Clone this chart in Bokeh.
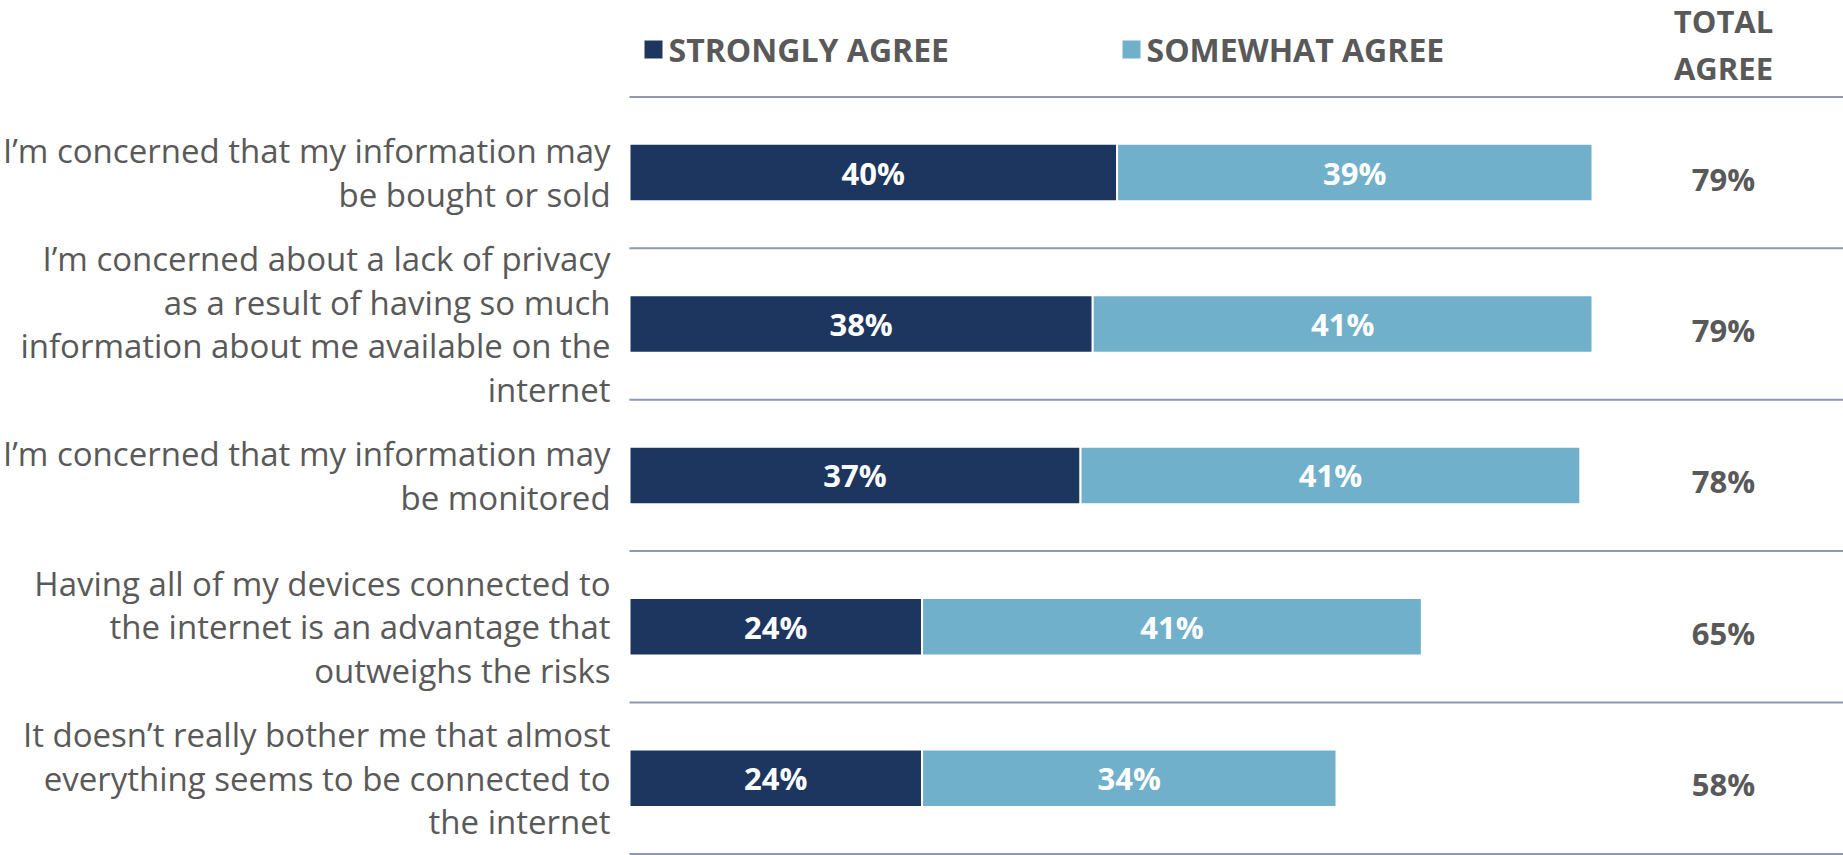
from bokeh.plotting import figure
from bokeh.models import Range1d, ColumnDataSource
from bokeh.core.properties import value
from bokeh.embed import file_html
from bokeh.resources import INLINE

categories = [
    "I\u2019m concerned that my information may\nbe bought or sold",
    "I\u2019m concerned about a lack of privacy\nas a result of having so much\ninformation about me available on the\ninternet",
    "I\u2019m concerned that my information may\nbe monitored",
    "Having all of my devices connected to\nthe internet is an advantage that\noutweighs the risks",
    "It doesn\u2019t really bother me that almost\neverything seems to be connected to\nthe internet",
]
strongly_agree = [40, 38, 37, 24, 24]
somewhat_agree = [39, 41, 41, 41, 34]
total_agree = [79, 79, 78, 65, 58]
series_names = ["STRONGLY AGREE", "SOMEWHAT AGREE"]
total_header = "TOTAL\nAGREE"

DARK = "#1d3660"
LIGHT = "#71b0ca"
GRAY = "#595959"
RULE = "#8c99b0"
FONT = "Open Sans"

W, H = 1843, 855
px_per_unit = 12.19
x0_px = 629
band_px = 151.4
c0_px = 172.1

xs = -x0_px / px_per_unit
xe = (W - x0_px) / px_per_unit
yt = -c0_px / band_px
yb = (H - c0_px) / band_px

p = figure(width=W, height=H, output_backend="svg", toolbar_location=None,
           x_range=Range1d(xs, xe), y_range=Range1d(yb, yt),
           min_border=0, min_border_left=0, min_border_right=0,
           min_border_top=0, min_border_bottom=0)
p.axis.visible = False
p.grid.visible = False
p.outline_line_color = None
p.background_fill_color = "white"
p.border_fill_color = "white"

n = len(categories)
ys = list(range(n))
right2 = [a + b for a, b in zip(strongly_agree, somewhat_agree)]

src = ColumnDataSource(dict(
    y=ys, sa=strongly_agree, sw=somewhat_agree, tot=right2,
    zero=[0] * n,
    mid1=[a / 2 for a in strongly_agree],
    mid2=[a + b / 2 for a, b in zip(strongly_agree, somewhat_agree)],
    lab1=[f"{v}%" for v in strongly_agree],
    lab2=[f"{v}%" for v in somewhat_agree],
    totlab=[f"{v}%" for v in total_agree],
    cat=categories,
    ty=[y + 0.04 for y in ys],
))

bar_h = 0.38
p.hbar(y="y", left="zero", right="sa", height=bar_h, source=src,
       fill_color=DARK, line_color="white", line_width=2)
p.hbar(y="y", left="sa", right="tot", height=bar_h, source=src,
       fill_color=LIGHT, line_color="white", line_width=2)

p.text(x="mid1", y="y", text="lab1", source=src, text_color="white",
       text_font=value(FONT), text_font_style="bold", text_font_size="31px",
       text_align="center", text_baseline="middle")
p.text(x="mid2", y="y", text="lab2", source=src, text_color="white",
       text_font=value(FONT), text_font_style="bold", text_font_size="31px",
       text_align="center", text_baseline="middle")

# category labels
p.text(x=-1.55, y="y", text="cat", source=src, text_color=GRAY,
       text_font=value(FONT), text_font_size="33px",
       text_align="right", text_baseline="middle", text_line_height=0.97)

# totals
tot_x = (1723 - x0_px) / px_per_unit
p.text(x=tot_x, y="ty", text="totlab", source=src, text_color=GRAY,
       text_font=value(FONT), text_font_style="bold", text_font_size="31px",
       text_align="center", text_baseline="middle")

# separator rules
rule_y = [i - 0.5 for i in range(n + 1)]
p.segment(x0=[0] * len(rule_y), x1=[xe + 5] * len(rule_y), y0=rule_y, y1=rule_y,
          line_color=RULE, line_width=2)

# legend
leg_y = (49 - c0_px) / band_px
sq = 18 / px_per_unit
p.rect(x=[(653 - x0_px) / px_per_unit, (1131 - x0_px) / px_per_unit], y=[leg_y, leg_y],
       width=sq, height=18 / band_px, fill_color=[DARK, LIGHT], line_color=None)
p.text(x=[(668 - x0_px) / px_per_unit, (1146 - x0_px) / px_per_unit], y=[leg_y, leg_y],
       text=series_names, text_color=GRAY, text_font=value(FONT),
       text_font_style="bold", text_font_size="32px",
       text_align="left", text_baseline="middle")

# total header
p.text(x=[tot_x], y=[(44 - c0_px) / band_px], text=[total_header], text_color=GRAY,
       text_font=value(FONT), text_font_style="bold", text_font_size="31px",
       text_align="center", text_baseline="middle", text_line_height=1.1)

open("out.html", "w").write(file_html(p, INLINE))
